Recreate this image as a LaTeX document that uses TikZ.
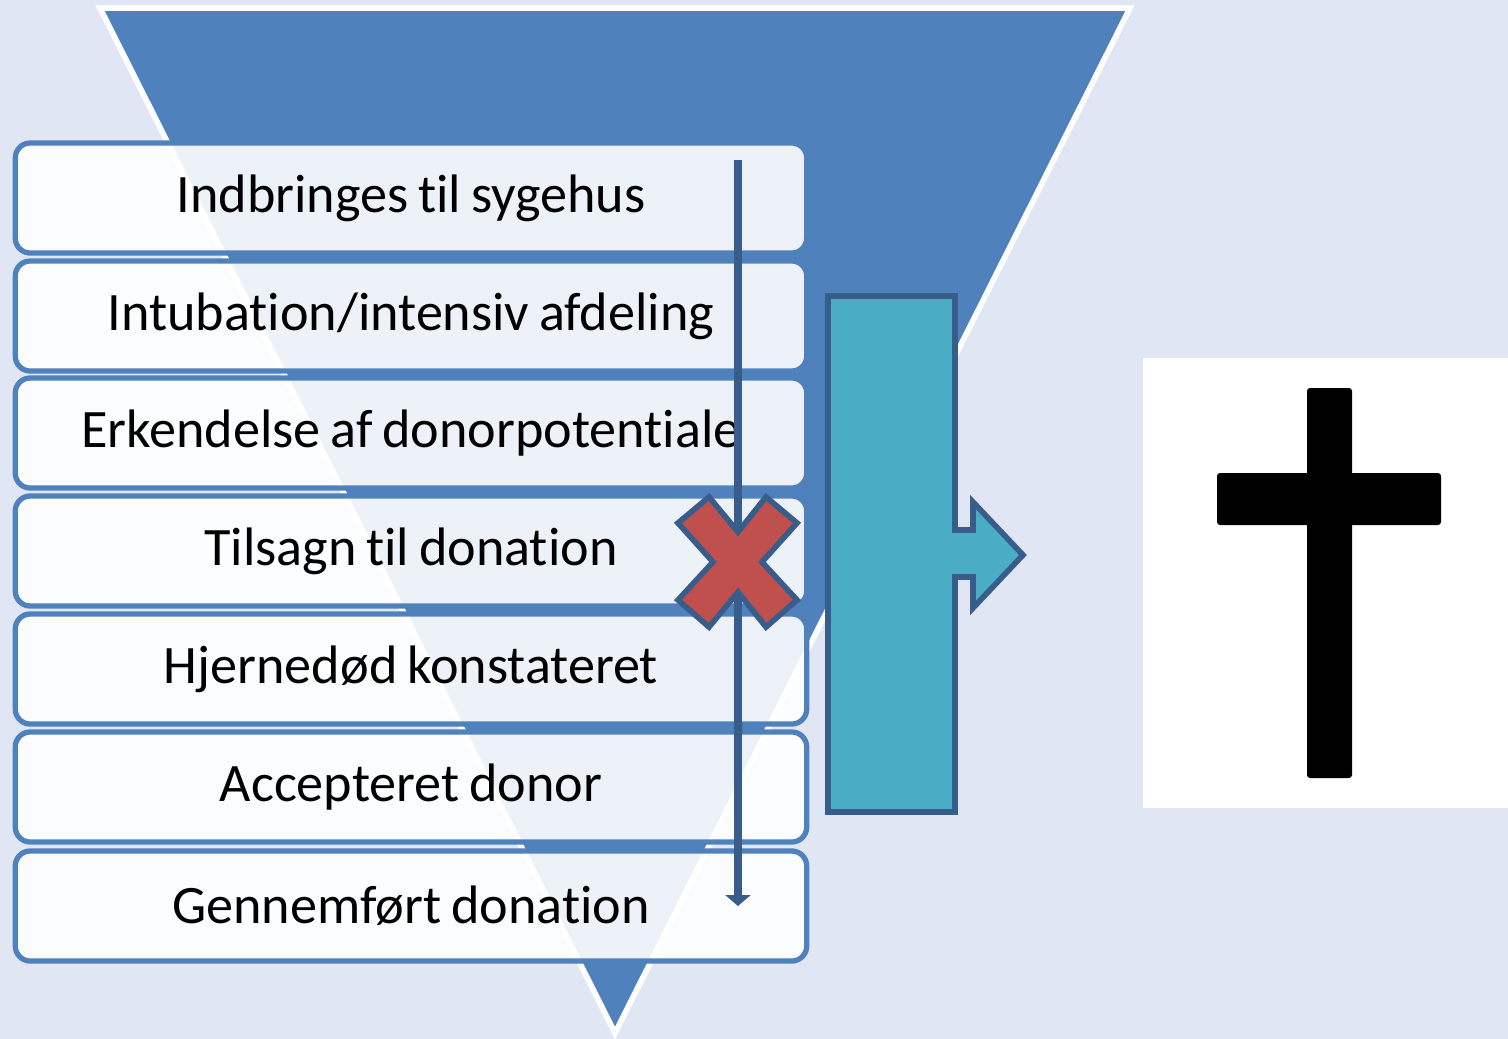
\documentclass[tikz,border=0pt]{standalone}
\usepackage{fontspec}
\setmainfont{Carlito}[Ligatures=NoCommon, WordSpace=0.8]
\usetikzlibrary{arrows.meta}
\definecolor{pagebg}{HTML}{E0E6F4}
\definecolor{funnelblue}{HTML}{4F81BD}
\definecolor{darkline}{HTML}{385D8A}
\definecolor{crossred}{HTML}{C0504D}
\definecolor{tealbar}{HTML}{4BACC6}
\tikzset{
  stepbox/.style={draw=funnelblue, line width=1.5pt, fill=white, fill opacity=0.9, text opacity=1, rounded corners=0.15cm, minimum width=7.91cm, minimum height=1.10cm, inner sep=0pt, font=\fontsize{15.4}{18}\selectfont},
  flowline/.style={draw=darkline, line width=2.4pt, -{Triangle[width=0.25cm,length=0.11cm]}},
  outline/.style={draw=darkline, line width=1.6pt, line join=miter},
}

\begin{document}
\begin{tikzpicture}[x=0.01cm, y=-0.01cm]
\useasboundingbox (0,0) rectangle (1508,1039);
\fill[pagebg] (0,0) rectangle (1508,1039);
\draw[draw=white, line width=1.6pt, fill=funnelblue] (100,8) -- (1130,8) -- (615,1033) -- cycle;

\node[stepbox] (s1) at (411,198) {Indbringes til sygehus};
\node[stepbox] (s2) at (411,316) {Intubation/intensiv afdeling};
\node[stepbox] (s3) at (411,433) {Erkendelse af donorpotentiale};
\node[stepbox] (s4) at (411,551) {Tilsagn til donation};
\node[stepbox] (s5) at (411,669) {Hjernedød konstateret};
\node[stepbox] (s6) at (411,787) {Accepteret donor};
\node[stepbox] (s7) at (411,906) {Gennemført donation};

\coordinate (flowtop) at (738,160);
\coordinate (flowend) at (738,906);
\draw[flowline] (flowtop) -- (flowend);

\filldraw[outline, fill=crossred] (678,523) -- (709,497) -- (738,532) -- (766,497) -- (797,523) -- (762,562) -- (797,600) -- (766,627) -- (738,592) -- (709,627) -- (678,600) -- (713,562) -- cycle;

\filldraw[outline, fill=tealbar] (828,296) -- (955,296) -- (955,530) -- (973,530) -- (973,502) -- (1023,555) -- (973,608) -- (973,577) -- (955,577) -- (955,812) -- (828,812) -- cycle;

\node[fill=white, minimum width=3.65cm, minimum height=4.50cm, inner sep=0pt] (deathbox) at (1325.5,583) {};
\fill[black, rounded corners=0.03cm] (1307,388) rectangle (1352,778);
\fill[black, rounded corners=0.03cm] (1217,473) rectangle (1441,525);

\end{tikzpicture}
\end{document}
